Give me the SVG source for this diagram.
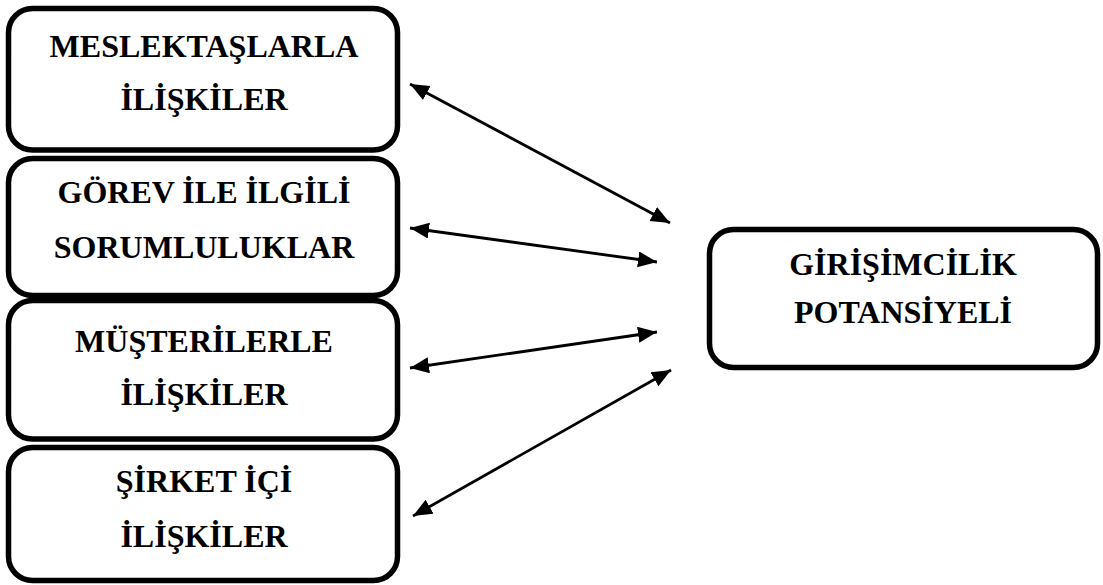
<svg xmlns="http://www.w3.org/2000/svg" width="1103" height="585" viewBox="0 0 1103 585">
<style>
.box{fill:#fff;stroke:#000;stroke-width:5.5}
.lbl{font-family:"Liberation Serif","Times New Roman",serif;font-weight:bold;font-size:32px;fill:#000;text-anchor:middle}
.con{stroke:#000;stroke-width:2.8;fill:none;marker-start:url(#ah);marker-end:url(#ah)}
</style>
<defs>
<marker id="ah" markerUnits="userSpaceOnUse" markerWidth="22" markerHeight="18" refX="19" refY="8" orient="auto-start-reverse" viewBox="0 0 22 18">
<path d="M0,0 L19,8 L0,16 z" fill="#000"/>
</marker>
</defs>
<rect width="1103" height="585" fill="#fff"/>
<g id="n1">
<rect class="box" x="8.5" y="8.5" width="389" height="141.5" rx="24"/>
<text class="lbl" x="204" y="57">MESLEKTAŞLARLA</text>
<text class="lbl" x="204" y="110">İLİŞKİLER</text>
</g>
<g id="n2">
<rect class="box" x="8.5" y="158.5" width="389" height="137" rx="24"/>
<text class="lbl" x="204" y="203">GÖREV İLE İLGİLİ</text>
<text class="lbl" x="204" y="258">SORUMLULUKLAR</text>
</g>
<g id="n3">
<rect class="box" x="8.5" y="300.5" width="389" height="138.5" rx="24"/>
<text class="lbl" x="204" y="352">MÜŞTERİLERLE</text>
<text class="lbl" x="204" y="405">İLİŞKİLER</text>
</g>
<g id="n4">
<rect class="box" x="8.5" y="447.5" width="389" height="133" rx="24"/>
<text class="lbl" x="204" y="492">ŞİRKET İÇİ</text>
<text class="lbl" x="204" y="547">İLİŞKİLER</text>
</g>
<g id="n5">
<rect class="box" x="709.5" y="229.5" width="388" height="138" rx="24"/>
<text class="lbl" x="903" y="275">GİRİŞİMCİLİK</text>
<text class="lbl" x="903" y="323">POTANSİYELİ</text>
</g>
<g id="connectors">
<line class="con" x1="410" y1="84" x2="670" y2="223"/>
<line class="con" x1="410" y1="228" x2="657" y2="262"/>
<line class="con" x1="410" y1="368" x2="657" y2="332"/>
<line class="con" x1="413" y1="516" x2="671" y2="370"/>
</g>
</svg>
